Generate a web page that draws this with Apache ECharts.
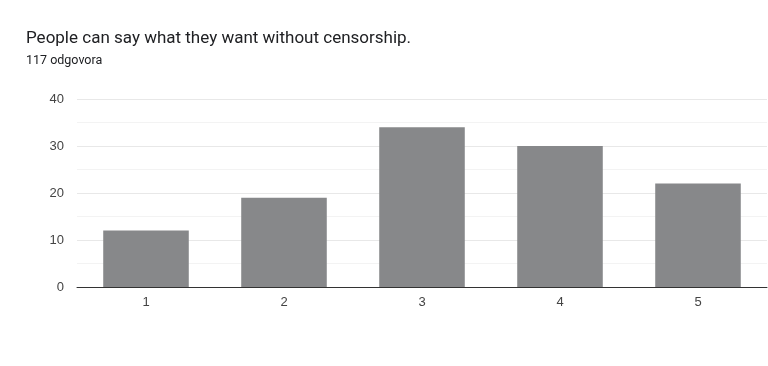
<!DOCTYPE html>
<html>
<head>
<meta charset="utf-8">
<script src="https://cdn.jsdelivr.net/npm/echarts@6/dist/echarts.min.js"></script>
<style>
html,body{margin:0;padding:0;background:#fff;}
#chart{width:768px;height:366px;}
</style>
</head>
<body>
<div id="chart"></div>
<script>
const titleText = "People can say what they want without censorship.";
const subtitleText = "117 odgovora";
const categories = ["1", "2", "3", "4", "5"];
const counts = [12, 19, 34, 30, 22];
const yTicks = [0, 10, 20, 30, 40];

const chart = echarts.init(document.getElementById('chart'), null, {renderer: 'canvas'});
chart.setOption({
  backgroundColor: '#ffffff',
  animation: false,
  title: {
    text: titleText,
    subtext: subtitleText,
    left: 21,
    top: 25,
    itemGap: 7,
    textStyle: {fontFamily: 'Roboto', fontSize: 17, fontWeight: 'normal', color: '#202124'},
    subtextStyle: {fontFamily: 'Roboto', fontSize: 12.5, color: '#202124'}
  },
  grid: {left: 77, right: 1, top: 99, bottom: 79, containLabel: false},
  xAxis: {
    type: 'category',
    data: categories,
    axisLine: {show: true, lineStyle: {color: '#333333', width: 1}},
    axisTick: {show: false},
    axisLabel: {fontFamily: 'Liberation Sans, Arial', fontSize: 13, color: '#444444', margin: 9}
  },
  yAxis: {
    type: 'value',
    min: yTicks[0],
    max: yTicks[yTicks.length - 1],
    interval: 10,
    axisLine: {show: false},
    axisTick: {show: false},
    axisLabel: {fontFamily: 'Liberation Sans, Arial', fontSize: 13, color: '#444444', margin: 13},
    splitLine: {show: true, lineStyle: {color: '#e8e8e8', width: 1}},
    minorTick: {show: false, splitNumber: 2},
    minorSplitLine: {show: true, lineStyle: {color: '#f3f3f3', width: 1}}
  },
  series: [{
    type: 'bar',
    data: counts,
    barCategoryGap: '38%',
    itemStyle: {color: '#87888a'}
  }]
});
</script>
</body>
</html>
